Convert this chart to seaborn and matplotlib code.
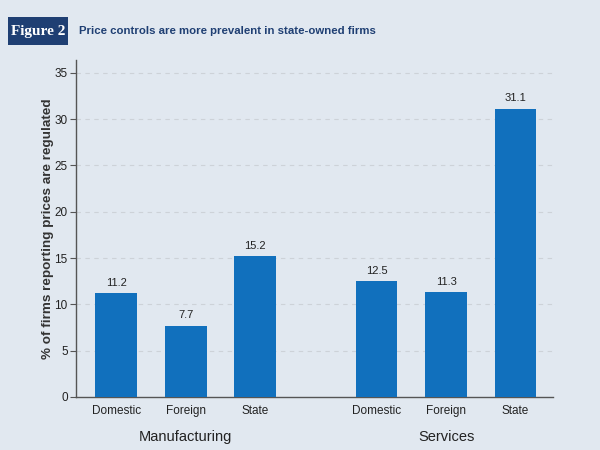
import matplotlib
matplotlib.use("Agg")
import matplotlib.pyplot as plt
import seaborn as sns
import pandas as pd
from matplotlib.patches import Rectangle

categories = ["Domestic", "Foreign", "State", "Domestic", "Foreign", "State"]
sectors = ["Manufacturing", "Manufacturing", "Manufacturing", "Services", "Services", "Services"]
values = [11.2, 7.7, 15.2, 12.5, 11.3, 31.1]
positions = [0, 1, 2, 3.75, 4.75, 5.75]
group_names = ["Manufacturing", "Services"]
y_ticks = [0, 5, 10, 15, 20, 25, 30, 35]

bg = "#E1E8F0"
bar_color = "#1170BD"
navy = "#1F3F73"

sns.set_theme(style="white")
plt.rcParams['font.family'] = ['Liberation Sans', 'DejaVu Sans']

df = pd.DataFrame({"pos": positions, "val": values, "cat": categories, "sector": sectors})

fig = plt.figure(figsize=(6, 4.5), dpi=100, facecolor=bg)
ax = fig.add_axes([0.1267, 0.1178, 0.795, 0.749])
ax.set_facecolor(bg)

sns.barplot(data=df, x="pos", y="val", native_scale=True, width=0.6,
            color=bar_color, saturation=1, ax=ax, zorder=3, linewidth=0)

ax.set_xlim(-0.58, 6.29)
ax.set_ylim(0, 36.4)
ax.set_yticks(y_ticks)
ax.set_yticklabels([str(t) for t in y_ticks], fontsize=8.5, color="#222222")
ax.set_xticks(positions)
ax.set_xticklabels(categories, fontsize=8.5, color="#222222")
ax.tick_params(axis="x", length=0, pad=6)
ax.tick_params(axis="y", length=4, width=0.8, color="#555555", pad=2, left=True)
for t in y_ticks[1:]:
    ax.axhline(t, color="#CDD2D8", lw=0.8, ls=(0, (4, 4)), zorder=1)

for s in ["top", "right"]:
    ax.spines[s].set_visible(False)
for s in ["left", "bottom"]:
    ax.spines[s].set_color("#555555")
    ax.spines[s].set_linewidth(1.0)

ax.set_xlabel("")
ax.set_ylabel("% of firms reporting prices are regulated", fontsize=9.7, color="#333333",
              labelpad=0, fontweight="semibold")

for p, v in zip(positions, values):
    ax.text(p, v + 0.6, f"{v:.1f}", ha="center", va="bottom", fontsize=8, color="#222222")

group_pos = [1, 4.75]
for g, gp in zip(group_names, group_pos):
    ax.text(gp, -4.3, g, ha="center", va="center", fontsize=10.5, color="#222222",
            transform=ax.transData, clip_on=False)

# Header
fig.patches.append(Rectangle((8/600, 1-45/450), 60/600, 28/450, transform=fig.transFigure,
                             facecolor=navy, edgecolor="none"))
fig.text(38/600, 1-31/450, "Figure 2", ha="center", va="center", color="white",
         fontsize=11, fontweight="bold", family=["Liberation Serif", "DejaVu Serif"])
fig.text(79/600, 1-31/450, "Price controls are more prevalent in state-owned firms",
         ha="left", va="center", color=navy, fontsize=8.2, fontweight="bold",
         family=["Liberation Sans", "DejaVu Sans"])

fig.savefig("out.png", dpi=100, facecolor=bg)
